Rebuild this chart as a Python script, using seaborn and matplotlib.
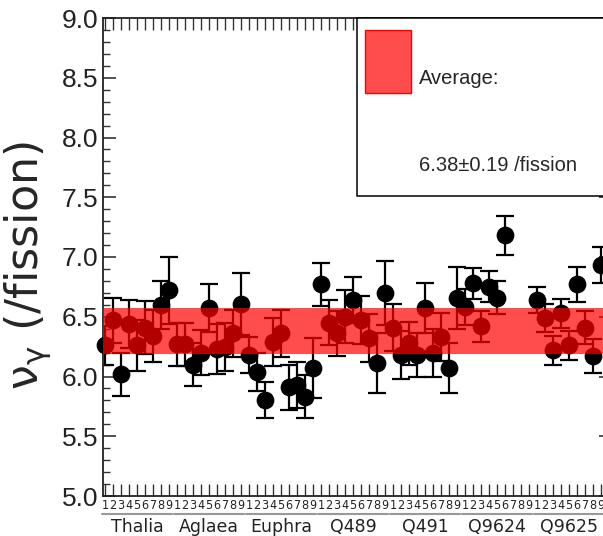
import numpy as np
import pandas as pd
import matplotlib
matplotlib.use("Agg")
import matplotlib.pyplot as plt
import matplotlib.transforms as mtransforms
from matplotlib.patches import Rectangle
from matplotlib.ticker import MultipleLocator, FormatStrFormatter
import seaborn as sns

# Данные: группы образцов и позиции 1..9 внутри каждой группы
groups = ["Thalia", "Aglaea", "Euphra", "Q489", "Q491", "Q9624", "Q9625"]
slot_labels = ["1", "2", "3", "4", "5", "6", "7", "8", "9"]

thalia = [6.26, 6.47, 6.02, 6.44, 6.26, 6.41, 6.34, 6.60, 6.72]
aglaea = [6.27, 6.27, 6.10, 6.20, 6.57, 6.23, 6.25, 6.36, 6.61]
euphra = [6.18, 6.04, 5.80, 6.29, 6.36, 5.91, 5.93, 5.83, 6.07]
q489 = [6.77, 6.45, 6.36, 6.50, 6.64, 6.47, 6.32, 6.11, 6.70]
q491 = [6.41, 6.18, 6.28, 6.18, 6.57, 6.20, 6.33, 6.07, 6.66]
q9624 = [6.58, 6.78, 6.42, 6.75, 6.66, 7.18, np.nan, np.nan, np.nan]
q9625 = [6.64, 6.49, 6.22, 6.53, 6.26, 6.77, 6.41, 6.17, 6.93]

thalia_err = [0.16, 0.19, 0.18, 0.20, 0.21, 0.22, 0.22, 0.20, 0.28]
aglaea_err = [0.18, 0.18, 0.18, 0.19, 0.20, 0.21, 0.20, 0.20, 0.26]
euphra_err = [0.15, 0.16, 0.15, 0.20, 0.20, 0.19, 0.19, 0.18, 0.25]
q489_err = [0.18, 0.19, 0.19, 0.22, 0.19, 0.20, 0.20, 0.25, 0.27]
q491_err = [0.20, 0.20, 0.18, 0.18, 0.21, 0.20, 0.20, 0.21, 0.26]
q9624_err = [0.15, 0.13, 0.13, 0.13, 0.14, 0.16, np.nan, np.nan, np.nan]
q9625_err = [0.11, 0.12, 0.12, 0.12, 0.12, 0.15, 0.14, 0.14, 0.15]

avg = 6.38
avg_err = 0.19

values = [thalia, aglaea, euphra, q489, q491, q9624, q9625]
errors = [thalia_err, aglaea_err, euphra_err, q489_err, q491_err, q9624_err, q9625_err]

rows = []
for g, (vals, errs) in enumerate(zip(values, errors)):
    for i, (v, e) in enumerate(zip(vals, errs)):
        rows.append({"group": groups[g], "pos": g * 9 + i + 1, "val": v, "err": e})
df = pd.DataFrame(rows)
pts = df.dropna()

sns.set_style("ticks")
plt.rcParams['font.family'] = ['Liberation Sans', 'DejaVu Sans']

fig = plt.figure(figsize=(6.03, 5.36), dpi=100)
ax = fig.add_axes([103 / 603, 40 / 536, 509 / 603, 478 / 536])

ax.errorbar(pts["pos"], pts["val"], yerr=pts["err"], fmt='none', ecolor='black',
            elinewidth=1.6, capsize=6.5, capthick=1.6, zorder=2)
sns.scatterplot(data=pts, x="pos", y="val", color='black', edgecolor='black',
                s=140, ax=ax, zorder=3, clip_on=False, legend=False)

# Полоса среднего значения поверх точек
ax.axhspan(avg - avg_err, avg + avg_err, color=(1, 0, 0), alpha=0.7, lw=0, zorder=4)

n_pos = len(groups) * 9
ax.set_xlim(0.75, 64.375)
ax.set_ylim(5.0, 9.0)
ax.set_xticks(range(1, n_pos + 1))
ax.set_xticklabels(slot_labels * len(groups), fontsize=9, family='DejaVu Sans',
                   fontstretch='condensed', color='#222222')
ax.yaxis.set_major_locator(MultipleLocator(0.5))
ax.yaxis.set_minor_locator(MultipleLocator(0.1))
ax.yaxis.set_major_formatter(FormatStrFormatter('%.1f'))
for lab in ax.get_yticklabels():
    lab.set_fontsize(19)
    lab.set_color('#222222')

ax.tick_params(axis='both', which='both', direction='in', top=True, right=True, color='#333333')
ax.tick_params(axis='x', which='major', length=8.6, width=1.0, pad=2.5)
ax.tick_params(axis='y', which='major', length=9.4, width=1.2, pad=3.5)
ax.tick_params(axis='y', which='minor', length=5, width=1.0)
for s in ax.spines.values():
    s.set_linewidth(1.3)
    s.set_color('#222222')

ax.set_xlabel("")
ax.set_ylabel(r'$\mathregular{\nu_{\gamma}}$ (/fission)', fontsize=32, family='DejaVu Sans')
ax.yaxis.set_label_coords(-0.098, 0.483)

# Подписи групп и серые линии под номерами
trans = mtransforms.blended_transform_factory(ax.transData, ax.transAxes)
for g, name in enumerate(groups):
    start = g * 9 + 1
    ax.text(start + 4, -0.065, name, transform=trans, ha='center', va='center',
            fontsize=12.5, family='DejaVu Sans', color='#222222', clip_on=False)
    ax.plot([start - 0.4, start + 8.4], [-0.038, -0.038], transform=trans,
            color='#999999', lw=1.5, clip_on=False)

# Рамка с описанием среднего
ax.add_patch(Rectangle((0.499, 0.628), 0.6, 0.372, transform=ax.transAxes,
                       facecolor='white', edgecolor='black', lw=1.1, zorder=5, clip_on=False))
ax.add_patch(Rectangle((0.515, 0.843), 0.09, 0.132, transform=ax.transAxes,
                       facecolor=(1, 0.3, 0.3), edgecolor='red', lw=1, zorder=6))
ax.text(0.621, 0.874, "Average:", transform=ax.transAxes, ha='left', va='center',
        fontsize=14.5, zorder=6)
ax.text(0.621, 0.692, f"{avg:.2f}±{avg_err:.2f} /fission", transform=ax.transAxes,
        ha='left', va='center', fontsize=14.5, zorder=6)

fig.savefig("out.png", dpi=100)
